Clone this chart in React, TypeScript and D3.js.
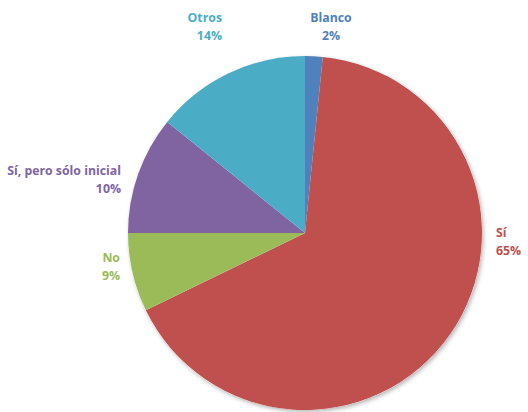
import React from "react";
import * as d3 from "d3";

const categories = ["Blanco", "Sí", "No", "Sí, pero sólo inicial", "Otros"];
const values = [1.6, 66.2, 7.2, 10.8, 14.2];
const percentLabels = ["2%", "65%", "9%", "10%", "14%"];
const colors = ["#4F81BD", "#C0504D", "#9BBB59", "#8064A2", "#4BACC6"];

// label anchor positions (x, baseline y of first line, alignment)
const labelX = [331, 496, 120, 121, 222];
const labelY = [22, 237, 262, 175, 22];
const labelAnchor = ["middle", "start", "end", "end", "end"];

const W = 528;
const H = 412;
const cx = 305;
const cy = 233;
const R = 177;

export default function App() {
  const pie = d3.pie<number>().sort(null).value((d) => d);
  const arcs = pie(values);
  const arc = d3.arc<d3.PieArcDatum<number>>().innerRadius(0).outerRadius(R);

  return (
    <svg
      width={W}
      height={H}
      style={{ position: "absolute", left: 0, top: 0, background: "#fff" }}
    >
      <defs>
        <filter id="sh" x="-20%" y="-20%" width="140%" height="140%">
          <feDropShadow dx="1.5" dy="2" stdDeviation="2" floodColor="#000" floodOpacity="0.3" />
        </filter>
      </defs>
      <g transform={`translate(${cx},${cy})`}>
        <circle r={R} fill="#fff" filter="url(#sh)" />
        {arcs.map((a, i) => (
          <path key={i} d={arc(a) || ""} fill={colors[i]} />
        ))}
      </g>
      <g fontFamily="'Open Sans', Lato, sans-serif" fontWeight="bold" fontSize="12.3px">
        {categories.map((c, i) => (
          <text key={i} x={labelX[i]} y={labelY[i]} fill={colors[i]} textAnchor={labelAnchor[i]}>
            <tspan x={labelX[i]}>{c}</tspan>
            <tspan x={labelX[i]} dy={17.5}>{percentLabels[i]}</tspan>
          </text>
        ))}
      </g>
    </svg>
  );
}
